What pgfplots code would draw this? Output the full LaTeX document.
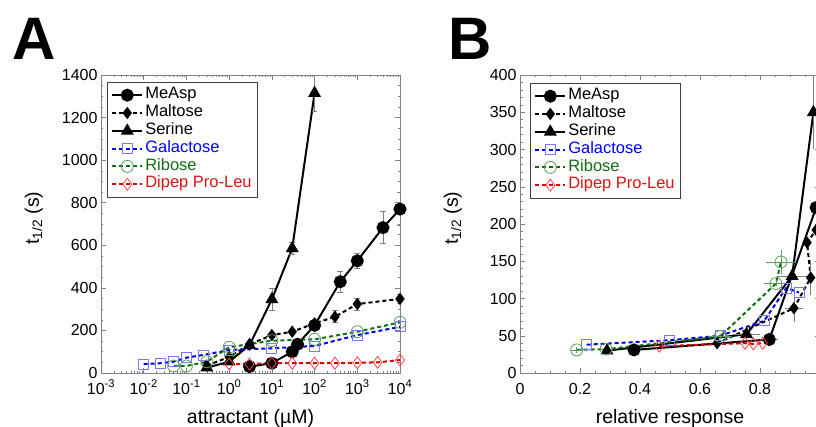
\documentclass[border=0pt]{standalone}
\usepackage{fontspec}
\setmainfont{Liberation Sans}
\usepackage{pgfplots}
\pgfplotsset{compat=1.18}
\usepackage{pgfplotstable}

\definecolor{galline}{RGB}{0,0,230}
\definecolor{galmark}{RGB}{120,120,255}
\definecolor{galtext}{RGB}{0,0,255}
\definecolor{ribline}{RGB}{16,112,16}
\definecolor{ribmark}{RGB}{90,160,90}
\definecolor{ribtext}{RGB}{20,110,20}
\definecolor{dipline}{RGB}{215,0,0}
\definecolor{dipmark}{RGB}{255,70,70}
\definecolor{diptext}{RGB}{220,20,20}
\definecolor{axgray}{RGB}{130,130,130}

% ---------------- Panel A data ----------------
\pgfplotstableread{
x y ey
3 30 0
10 46 0
30 100 8
40 135 0
100 224 15
400 429 50
1000 527 35
4000 683 75
10000 770 77
}\AMeAsp
\pgfplotstableread{
x y ey
0.3 35 0
1 75 0
3 135 0
10 178 10
30 194 10
100 233 12
300 264 28
1000 324 28
10000 348 20
}\AMaltose
\pgfplotstableread{
x y ey
0.3 25 0
1 53 0
3 131 0
10 346 50
30 586 30
100 1315 85
}\ASerine
\pgfplotstableread{
x y ey
0.01 42 0
0.025 46 0
0.05 53 0
0.1 72 0
0.25 85 0
1 108 0
10 116 0
100 127 0
1000 178 0
10000 217 0
}\AGalactose
\pgfplotstableread{
x y ey
0.05 33 0
0.1 33 0
0.3 53 0
1 121 0
10 152 0
100 158 0
1000 194 0
10000 238 0
}\ARibose
\pgfplotstableread{
x y ey
1 42 0
3 42 0
10 46 0
30 46 0
100 46 0
300 46 0
1000 48 0
3000 50 0
10000 61 0
}\ADipep

% ---------------- Panel B data ----------------
\pgfplotstableread{
x y ex ey
0.38 31 0 0
0.831 45 0.02 0
0.987 222 0 0
}\BMeAsp
\pgfplotstableread{
x y ex ey
0.657 40 0 0
0.913 87 0.02 15
0.969 128 0 20
0.957 175 0 0
0.987 192 0 0
}\BMaltose
\pgfplotstableread{
x y ex ey
0.29 30 0 0
0.755 52 0.035 0
0.907 130 0.04 0
0.978 350 0 45
}\BSerine
\pgfplotstableread{
x y ex ey
0.222 38 0 0
0.498 44 0 0
0.667 50 0 0
0.814 70 0 0
0.887 114 0 0
0.93 108 0 0
}\BGalactose
\pgfplotstableread{
x y ex ey
0.189 31 0.01 0
0.287 32 0.012 0
0.667 49 0.03 0
0.853 120 0.03 0
0.87 149 0.04 12
}\BRibose
\pgfplotstableread{
x y ex ey
0.464 36 0 0
0.75 40 0 0
0.778 39 0 0
0.809 40 0 0
}\BDipep

\pgfplotsset{
  panel/.style={
    scale only axis, height=298pt,
    axis line style={axgray, line width=0.6pt},
    every tick/.style={axgray, line width=0.5pt},
    major tick length=5pt, minor tick length=2.5pt,
    tick align=inside,
    ticklabel style={font=\fontsize{16}{16}\selectfont},
    /pgf/number format/assume math mode=true,
    /pgf/number format/1000 sep={},
    xticklabel style={anchor=base, yshift=-21pt},
    every axis x label/.style={at={(axis description cs:0.5,0)}, anchor=base, yshift=-50pt, font=\fontsize{19.5}{20}\selectfont},
    every axis y label/.style={rotate=90, anchor=base, font=\fontsize{19.5}{20}\selectfont},
    legend cell align=left,
    legend style={draw=black!75, line width=0.6pt, fill=white,
      font=\fontsize{16.5}{16.5}\selectfont, inner sep=4pt, row sep=0pt,
      nodes={inner xsep=2pt, inner ysep=0pt, text height=12.6pt, text depth=5.2pt}},
    legend image code/.code={\draw[mark repeat=2,mark phase=2,#1] plot coordinates {(0pt,0pt) (15pt,0pt) (30pt,0pt)};},
  },
  smeasp/.style={black, solid, line width=2pt, mark=*, mark size=5.5pt, mark options={solid, fill=black}},
  smaltose/.style={black, dash pattern=on 4pt off 3pt, line width=2pt, mark=diamond*, mark size=4.6pt, mark options={solid, fill=black}},
  sserine/.style={black, solid, line width=2pt, mark=triangle*, mark size=5.5pt, mark options={solid, fill=black}},
  sgal/.style={galline, dash pattern=on 4pt off 3pt, line width=2pt, mark=square, mark size=5pt, mark options={solid, draw=galmark, fill=white, line width=0.8pt}},
  srib/.style={ribline, dash pattern=on 4pt off 3pt, line width=2pt, mark=o, mark size=6pt, mark options={solid, draw=ribmark, fill=white, line width=0.8pt}},
  sdip/.style={dipline, dash pattern=on 4pt off 3pt, line width=2pt, mark=diamond, mark size=6pt, mark options={solid, draw=dipmark, fill=white, line width=0.8pt}},
  eA/.style={error bars/.cd, y dir=both, y explicit,
    error bar style={draw=gray, line width=0.7pt, solid},
    error mark options={draw=gray, mark size=2.8pt, line width=0.7pt, solid, rotate=90}},
  eB/.style={error bars/.cd, x dir=both, x explicit, y dir=both, y explicit,
    error bar style={draw=#1, line width=0.7pt, solid},
    error mark options={draw=#1, mark size=2.8pt, line width=0.7pt, solid}},
}

\begin{document}
\begin{tikzpicture}
\useasboundingbox (0,0) rectangle (816pt,426pt);

\node[font=\fontsize{60}{60}\selectfont\bfseries] at (34pt,387.5pt) {A};
\node[font=\fontsize{60}{60}\selectfont\bfseries] at (470pt,387.5pt) {B};

% ---------------- Panel A ----------------
\begin{axis}[panel, at={(101pt,53pt)}, anchor=south west, width=299pt,
  xmode=log, xmin=1e-3, xmax=1e4,
  xtick={1e-3,1e-2,1e-1,1,10,100,1000,10000},
  xticklabels={10\textsuperscript{-3},10\textsuperscript{-2},10\textsuperscript{-1},10\textsuperscript{0},10\textsuperscript{1},10\textsuperscript{2},10\textsuperscript{3},10\textsuperscript{4}},
  ymin=0, ymax=1400, ytick={0,200,...,1400}, minor y tick num=3,
  xlabel={attractant (µM)}, ylabel={t\textsubscript{1/2} (s)},
  ylabel style={at={(axis description cs:-0.2074,0.52)}},
  legend style={at={(axis description cs:0,1)}, anchor=north west, xshift=6pt, yshift=-7pt},
]
\addplot[smeasp, eA] table[x=x,y=y,y error=ey] {\AMeAsp}; \addlegendentry{MeAsp}
\addplot[smaltose, eA] table[x=x,y=y,y error=ey] {\AMaltose}; \addlegendentry{Maltose}
\addplot[sserine, eA] table[x=x,y=y,y error=ey] {\ASerine}; \addlegendentry{Serine}
\addplot[sgal] table[x=x,y=y] {\AGalactose}; \addlegendentry{\textcolor{galtext}{Galactose}}
\addplot[srib] table[x=x,y=y] {\ARibose}; \addlegendentry{\textcolor{ribtext}{Ribose}}
\addplot[sdip] table[x=x,y=y] {\ADipep}; \addlegendentry{\textcolor{diptext}{Dipep Pro-Leu}}
\end{axis}

% ---------------- Panel B ----------------
\begin{axis}[panel, at={(520pt,53pt)}, anchor=south west, width=300pt,
  xmin=0, xmax=1, xtick={0,0.2,0.4,0.6,0.8},
  minor xtick={0.05,0.1,0.15,0.25,0.3,0.35,0.45,0.5,0.55,0.65,0.7,0.75,0.85,0.9,0.95},
  ymin=0, ymax=400, ytick={0,50,...,400}, minor y tick num=4,
  xlabel={relative response}, ylabel={t\textsubscript{1/2} (s)},
  ylabel style={at={(axis description cs:-0.2067,0.52)}},
  legend style={at={(axis description cs:0,1)}, anchor=north west, xshift=10pt, yshift=-8pt},
]
\addplot[smeasp, eB=gray] table[x=x,y=y,x error=ex,y error=ey] {\BMeAsp}; \addlegendentry{MeAsp}
\addplot[smaltose, eB=gray] table[x=x,y=y,x error=ex,y error=ey] {\BMaltose}; \addlegendentry{Maltose}
\addplot[sserine, eB=gray] table[x=x,y=y,x error=ex,y error=ey] {\BSerine}; \addlegendentry{Serine}
\addplot[sgal] table[x=x,y=y] {\BGalactose}; \addlegendentry{\textcolor{galtext}{Galactose}}
\addplot[srib, eB=ribmark] table[x=x,y=y,x error=ex,y error=ey] {\BRibose}; \addlegendentry{\textcolor{ribtext}{Ribose}}
\addplot[sdip] table[x=x,y=y] {\BDipep}; \addlegendentry{\textcolor{diptext}{Dipep Pro-Leu}}
\end{axis}
\end{tikzpicture}
\end{document}
